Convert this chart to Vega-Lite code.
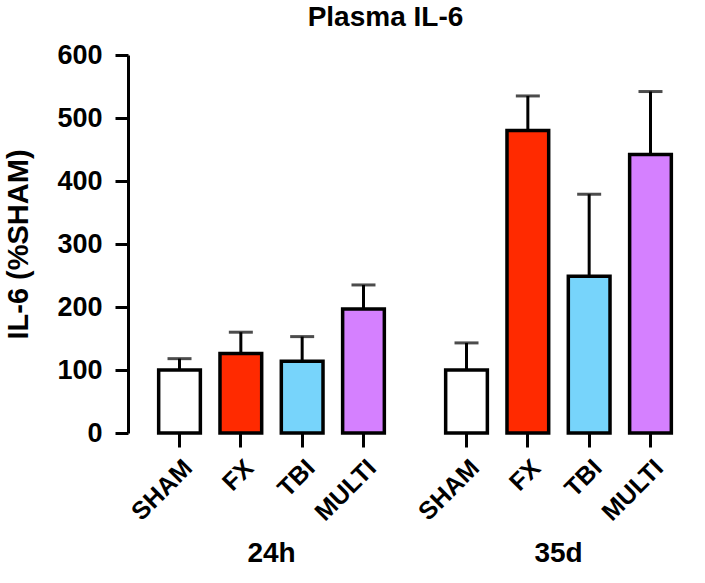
{
  "$schema": "https://vega.github.io/schema/vega-lite/v6.json",
  "background": "white",
  "padding": {"left": 4, "top": 4, "right": 3, "bottom": 3},
  "bounds": "flush",
  "title": {"text": "Plasma IL-6", "fontSize": 28, "font": "Liberation Sans", "fontWeight": "bold", "anchor": "middle", "offset": 9, "dx": 32, "color": "black"},
  "data": {"values": [
    {"time": "24h", "group": "SHAM", "mean": 100, "upper": 118},
    {"time": "24h", "group": "FX", "mean": 126, "upper": 160},
    {"time": "24h", "group": "TBI", "mean": 114, "upper": 153},
    {"time": "24h", "group": "MULTI", "mean": 197, "upper": 235},
    {"time": "35d", "group": "SHAM", "mean": 100, "upper": 143},
    {"time": "35d", "group": "FX", "mean": 480, "upper": 535},
    {"time": "35d", "group": "TBI", "mean": 249, "upper": 379},
    {"time": "35d", "group": "MULTI", "mean": 442, "upper": 542}
  ]},
  "facet": {"column": {"field": "time", "type": "nominal", "sort": ["24h", "35d"], "header": {"title": null, "labelOrient": "bottom", "labelFontSize": 28, "labelFont": "Liberation Sans", "labelFontWeight": "bold", "labelColor": "black", "labelPadding": 15, "labelExpr": "datum.label + '\u00a0\u00a0\u00a0'"}}},
  "spacing": {"column": 0},
  "spec": {
    "width": 287,
    "height": 378,
    "encoding": {
      "x": {"field": "group", "type": "nominal", "sort": ["SHAM", "FX", "TBI", "MULTI"], "scale": {"paddingInner": 0.32, "paddingOuter": 0.5},
        "axis": {"title": null, "labelAngle": -45, "labelFontSize": 25, "labelFont": "Liberation Sans", "labelFontWeight": "bold", "labelColor": "black", "tickSize": 14, "tickWidth": 3, "domain": false, "labelPadding": 8, "tickColor": "black"}}
    },
    "layer": [
      {"mark": {"type": "rule", "strokeWidth": 3, "color": "black"},
        "encoding": {"y": {"field": "mean", "type": "quantitative", "scale": {"domain": [0, 600], "nice": false},
            "axis": {"title": "IL-6 (%SHAM)", "values": [0, 100, 200, 300, 400, 500, 600], "titleFontSize": 29, "titleFont": "Liberation Sans", "titleFontWeight": "bold", "titleColor": "black", "labelFontSize": 27, "labelFont": "Liberation Sans", "labelFontWeight": "bold", "labelColor": "black", "tickSize": 13, "tickWidth": 3, "domainWidth": 3, "labelPadding": 13, "titlePadding": 23, "domainColor": "black", "tickColor": "black"}},
          "y2": {"field": "upper"}}},
      {"mark": {"type": "tick", "size": 24, "thickness": 3, "color": "black"},
        "encoding": {"y": {"field": "upper", "type": "quantitative", "scale": {"domain": [0, 600], "nice": false},
            "axis": {"title": "IL-6 (%SHAM)", "values": [0, 100, 200, 300, 400, 500, 600], "titleFontSize": 29, "titleFont": "Liberation Sans", "titleFontWeight": "bold", "titleColor": "black", "labelFontSize": 27, "labelFont": "Liberation Sans", "labelFontWeight": "bold", "labelColor": "black", "tickSize": 13, "tickWidth": 3, "domainWidth": 3, "labelPadding": 13, "titlePadding": 23, "domainColor": "black", "tickColor": "black"}}}},
      {"mark": {"type": "bar", "stroke": "black", "strokeWidth": 3.5, "opacity": 1},
        "encoding": {
          "y": {"field": "mean", "type": "quantitative", "scale": {"domain": [0, 600], "nice": false},
            "axis": {"title": "IL-6 (%SHAM)", "values": [0, 100, 200, 300, 400, 500, 600], "titleFontSize": 29, "titleFont": "Liberation Sans", "titleFontWeight": "bold", "titleColor": "black", "labelFontSize": 27, "labelFont": "Liberation Sans", "labelFontWeight": "bold", "labelColor": "black", "tickSize": 13, "tickWidth": 3, "domainWidth": 3, "labelPadding": 13, "titlePadding": 23, "domainColor": "black", "tickColor": "black"}},
          "color": {"field": "group", "type": "nominal", "scale": {"domain": ["SHAM", "FX", "TBI", "MULTI"], "range": ["#FFFFFF", "#FF2A00", "#77D4FB", "#D580FF"]}, "legend": null}
        }},
      {"mark": {"type": "rule", "strokeWidth": 3, "color": "black"},
        "encoding": {"y": {"datum": 0, "type": "quantitative", "scale": {"domain": [0, 600], "nice": false},
            "axis": {"title": "IL-6 (%SHAM)", "values": [0, 100, 200, 300, 400, 500, 600], "titleFontSize": 29, "titleFont": "Liberation Sans", "titleFontWeight": "bold", "titleColor": "black", "labelFontSize": 27, "labelFont": "Liberation Sans", "labelFontWeight": "bold", "labelColor": "black", "tickSize": 13, "tickWidth": 3, "domainWidth": 3, "labelPadding": 13, "titlePadding": 23, "domainColor": "black", "tickColor": "black"}}}}
    ]
  },
  "config": {"view": {"stroke": null}, "axis": {"grid": false}}
}
